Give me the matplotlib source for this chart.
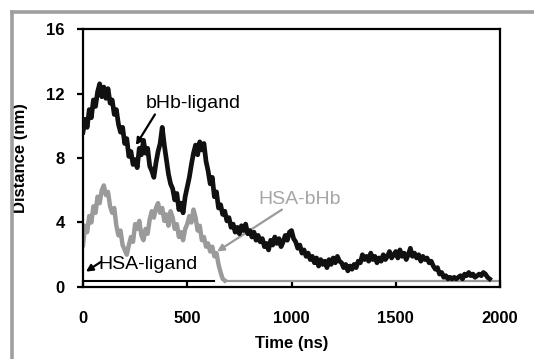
import matplotlib
matplotlib.use("Agg")
import matplotlib.pyplot as plt
import numpy as np
from matplotlib.lines import Line2D

plt.rcParams['font.family'] = ['Liberation Sans', 'DejaVu Sans']

bhb_time = np.arange(0, 1960, 10)
bhb_ligand = [
    9.6, 10.4, 9.9, 11.0, 10.5, 11.6, 11.2, 12.1, 12.6, 11.8,
    12.4, 11.7, 12.3, 11.4, 11.6, 10.7, 11.0, 10.1, 9.6, 9.9,
    8.9, 9.2, 8.1, 8.4, 7.6, 7.9, 7.4, 8.6, 8.2, 9.1,
    8.3, 8.6, 7.5, 7.2, 6.8, 7.7, 8.4, 8.9, 9.9, 8.8,
    7.9, 7.0, 6.4, 6.1, 5.4, 5.8, 4.8, 5.2, 4.6, 5.6,
    6.2, 6.8, 7.6, 8.3, 8.8, 8.2, 9.0, 8.5, 8.9, 7.8,
    7.2, 6.4, 6.8, 5.6, 5.9, 4.9, 5.1, 4.5, 4.7, 4.1,
    4.3, 3.7, 3.9, 3.4, 3.7, 3.3, 3.8, 3.5, 3.9, 3.3,
    3.5, 3.1, 3.4, 2.9, 3.2, 2.8, 3.0, 2.5, 2.7, 2.3,
    2.9, 2.6, 3.1, 2.7, 3.0, 2.5, 2.8, 3.2, 2.9, 3.4,
    3.5, 3.0, 2.8, 2.4, 2.6, 2.1, 2.3, 1.9, 2.1, 1.7,
    1.9, 1.5, 1.8, 1.3, 1.7, 1.4, 1.6, 1.2, 1.7, 1.4,
    1.8, 1.5, 1.9, 1.6, 1.5, 1.2, 1.4, 1.0, 1.3, 1.1,
    1.4, 1.2, 1.6, 1.5, 2.0, 1.7, 1.9, 1.6, 2.1, 1.7,
    1.9, 1.5, 1.8, 1.6, 2.0, 1.7, 1.9, 2.2, 1.8, 2.0,
    2.2, 1.8, 2.3, 1.9, 2.1, 1.7, 2.0, 2.4, 1.9, 2.1,
    1.8, 2.0, 1.6, 1.9, 1.7, 1.8, 1.5, 1.6, 1.3, 1.1,
    1.2, 0.8, 0.9, 0.6, 0.7, 0.5, 0.6, 0.5, 0.6, 0.5,
    0.6, 0.7, 0.5, 0.8, 0.7, 0.9, 0.7, 0.8, 0.6, 0.7,
    0.8, 0.7, 0.9, 0.8, 0.6, 0.5,
]

# HSA-bHb distance
hsa_bhb_time = list(range(0, 690, 10)) + [2000]
hsa_bhb = [
    2.6, 3.8, 3.4, 4.4, 4.0, 5.0, 4.6, 5.6, 5.2, 6.0,
    6.3, 5.7, 5.9, 5.0, 4.6, 4.9, 3.8, 3.2, 3.5, 2.6,
    2.3, 2.0, 2.6, 3.1, 2.8, 3.9, 3.6, 4.1, 3.2, 2.9,
    3.6, 3.3, 4.2, 4.7, 4.3, 4.9, 5.2, 4.6, 4.9, 4.1,
    4.5, 3.8, 4.7, 4.3, 3.6, 3.9, 3.1, 3.4, 2.9, 3.6,
    3.9, 4.4, 4.0, 4.8, 4.3, 3.5, 3.8, 2.9, 3.1, 2.5,
    2.7, 2.2, 2.5, 1.9, 2.1, 1.4, 0.9, 0.5, 0.4,
    0.4,
]

# HSA-ligand distance
hsa_lig_time = [0, 630]
hsa_ligand = [0.4, 0.4]

fig = plt.figure(figsize=(5.34, 3.59), dpi=100)
ax = fig.add_axes([0.1554, 0.2006, 0.781, 0.7186])

ax.plot(hsa_bhb_time[:-1], hsa_bhb[:-1], color='#9a9a9a', lw=3.2, zorder=2)
ax.plot(hsa_bhb_time[-2:], hsa_bhb[-2:], color='#9a9a9a', lw=1.6, zorder=2)
ax.plot(hsa_lig_time, hsa_ligand, color='black', lw=1.5, zorder=3)
ax.plot(bhb_time, bhb_ligand, color='#111111', lw=3.4, zorder=4)

ax.set_xlim(0, 2000)
ax.set_ylim(0, 16)
ax.set_xticks([0, 500, 1000, 1500, 2000])
ax.set_yticks([0, 4, 8, 12, 16])
for s in ax.spines.values():
    s.set_linewidth(1.6)
ax.tick_params(axis='x', direction='in', length=5, width=1.6, pad=17,
               labelsize=12)
ax.tick_params(axis='y', direction='out', length=4, width=1.6, pad=9,
               labelsize=12)
for lab in ax.get_xticklabels() + ax.get_yticklabels():
    lab.set_fontweight('bold')

ax.set_xlabel('Time (ns)', fontsize=12, fontweight='bold')
ax.set_ylabel('Distance (nm)', fontsize=12, fontweight='bold')
ax.xaxis.set_label_coords(0.5, -0.19)
ax.yaxis.set_label_coords(-0.132, 0.5)

arrow_k = dict(arrowstyle='-|>', color='black', lw=1.6, mutation_scale=10,
               shrinkA=0, shrinkB=0)
arrow_g = dict(arrowstyle='-|>', color='#9a9a9a', lw=1.6, mutation_scale=10,
               shrinkA=0, shrinkB=0)

ax.text(300, 11.4, 'bHb-ligand', fontsize=14, ha='left', va='center')
ax.annotate('', xy=(254, 8.8), xytext=(345, 10.7), arrowprops=arrow_k)

ax.text(840, 5.4, 'HSA-bHb', fontsize=14, ha='left', va='center',
        color='#a6a6a6')
ax.annotate('', xy=(643, 2.2), xytext=(954, 4.8), arrowprops=arrow_g)

ax.text(75, 1.4, 'HSA-ligand', fontsize=14, ha='left', va='center')
ax.annotate('', xy=(14, 0.95), xytext=(85, 1.55), arrowprops=arrow_k)

# grey frame around the figure panel
fig.add_artist(Line2D([12 / 534, 12 / 534], [0, 1 - 12 / 359],
                      transform=fig.transFigure, color='#9f9f9f', lw=2.6))
fig.add_artist(Line2D([12 / 534, 1], [1 - 12 / 359, 1 - 12 / 359],
                      transform=fig.transFigure, color='#9f9f9f', lw=2.6))

fig.savefig('out.png', dpi=100)
